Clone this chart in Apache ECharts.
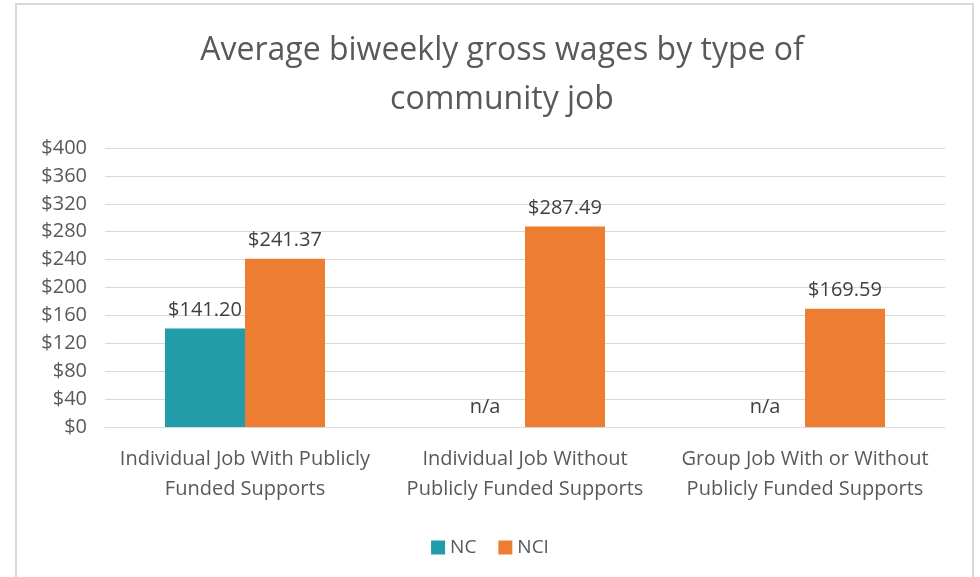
<!DOCTYPE html>
<html>
<head>
<meta charset="utf-8">
<script src="https://cdn.jsdelivr.net/npm/echarts@6/dist/echarts.min.js"></script>
<style>
    html, body { margin: 0; padding: 0; background: #fff; }
    #wrap { position: relative; width: 980px; height: 577px; }
    #frame { position: absolute; left: 15px; top: 3px; width: 959px; height: 590px; border: 2px solid #d9d9d9; border-bottom: none; box-sizing: border-box; }
    #main { position: absolute; left: 0; top: 0; width: 980px; height: 577px; }
</style>
</head>
<body>
<div id="wrap">
    <div id="frame"></div>
    <div id="main"></div>
</div>
<script>
// data
var categories = [
    'Individual Job With Publicly\nFunded Supports',
    'Individual Job Without\nPublicly Funded Supports',
    'Group Job With or Without\nPublicly Funded Supports'
]
var ncValues = [141.20, null, null]
var nciValues = [241.37, 287.49, 169.59]
var yTicks = [0, 40, 80, 120, 160, 200, 240, 280, 320, 360, 400]

var font = 'Open Sans'
var textColor = '#595959'

// n/a slots sit at zero with a text label
var ncData = ncValues.map(function(v) {
    if (v == null) {
        return { value: 0, label: { formatter: 'n/a', distance: 10 } }
    }
    return v
})

var myChart = echarts.init(document.getElementById('main'))

var option = {
    animation: false,
    backgroundColor: 'transparent',
    title: {
        text: 'Average biweekly gross wages by type of\ncommunity job',
        left: 497,
        textAlign: 'center',
        top: 21,
        textStyle: {
            fontFamily: font,
            fontWeight: 'normal',
            fontSize: 32,
            lineHeight: 49,
            color: textColor
        }
    },
    legend: {
        data: ['NC', 'NCI'],
        left: 'center',
        top: 533,
        itemWidth: 14,
        itemHeight: 14,
        itemGap: 22,
        icon: 'rect',
        textStyle: { fontFamily: font, fontSize: 19, color: textColor }
    },
    grid: { left: 105, right: 35, top: 148, bottom: 150, containLabel: false },
    xAxis: {
        type: 'category',
        data: categories,
        axisLine: { lineStyle: { color: '#d9d9d9', width: 1 } },
        axisTick: { show: false },
        axisLabel: {
            fontFamily: font,
            fontSize: 20,
            lineHeight: 30,
            color: textColor,
            margin: 17,
            interval: 0
        }
    },
    yAxis: {
        type: 'value',
        min: yTicks[0],
        max: yTicks[yTicks.length - 1],
        interval: yTicks[1] - yTicks[0],
        axisLine: { show: false },
        axisTick: { show: false },
        splitLine: { lineStyle: { color: '#d9d9d9', width: 1 } },
        axisLabel: {
            fontFamily: font,
            fontSize: 20,
            color: textColor,
            margin: 18,
            formatter: function(v) { return '$' + v }
        }
    },
    series: [
        {
            name: 'NC',
            type: 'bar',
            data: ncData,
            barWidth: 80,
            barGap: '0%',
            itemStyle: { color: '#219ca8' },
            label: {
                show: true,
                position: 'top',
                distance: 8,
                fontFamily: font,
                fontSize: 20,
                color: '#404040',
                formatter: function(p) { return '$' + p.value.toFixed(2) }
            }
        },
        {
            name: 'NCI',
            type: 'bar',
            data: nciValues,
            barWidth: 80,
            itemStyle: { color: '#ed7d31' },
            label: {
                show: true,
                position: 'top',
                distance: 8,
                fontFamily: font,
                fontSize: 20,
                color: '#404040',
                formatter: function(p) { return '$' + p.value.toFixed(2) }
            }
        }
    ]
}

myChart.setOption(option)
</script>
</body>
</html>
